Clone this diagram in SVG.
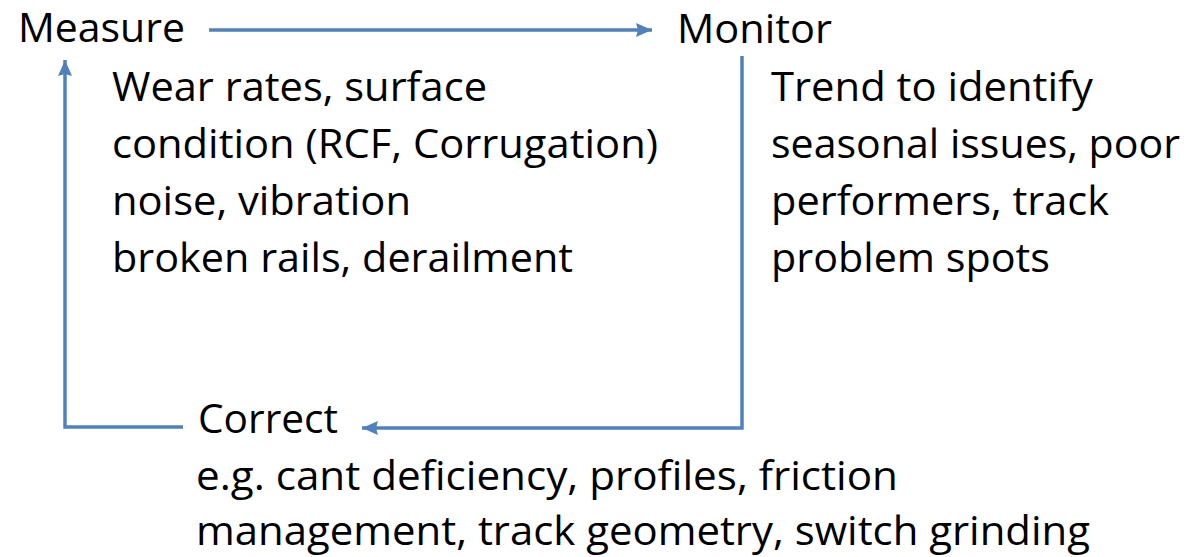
<svg xmlns="http://www.w3.org/2000/svg" width="1187" height="557" viewBox="0 0 1187 557">
<defs>
<style>
.t{font-family:"Open Sans","Noto Sans","Liberation Sans",sans-serif;font-size:41px;fill:#000}
.c{fill:none;stroke:#4F81BD;stroke-width:3.5}
</style>
<marker id="ah" markerUnits="userSpaceOnUse" markerWidth="18" markerHeight="16" refX="16" refY="7" orient="auto">
<path d="M0,0 L16,7 L0,14 L2,7 Z" fill="#4F81BD"/>
</marker>
</defs>
<rect width="1187" height="557" fill="#fff"/>
<g id="connectors">
<path class="c" d="M209,30 L652,30" marker-end="url(#ah)"/>
<path class="c" d="M742,56 L742,428 L362,428" marker-end="url(#ah)"/>
<path class="c" d="M183,427 L65,427 L65,60" marker-end="url(#ah)"/>
</g>
<g id="measure">
<text class="t" x="18" y="42" textLength="167" lengthAdjust="spacingAndGlyphs">Measure</text>
<text class="t" x="112" y="101" textLength="375" lengthAdjust="spacingAndGlyphs">Wear rates, surface</text>
<text class="t" x="112" y="158" textLength="546" lengthAdjust="spacingAndGlyphs">condition (RCF, Corrugation)</text>
<text class="t" x="112" y="215" textLength="299" lengthAdjust="spacingAndGlyphs">noise, vibration</text>
<text class="t" x="112" y="272" textLength="461" lengthAdjust="spacingAndGlyphs">broken rails, derailment</text>
</g>
<g id="monitor">
<text class="t" x="677" y="43" textLength="155" lengthAdjust="spacingAndGlyphs">Monitor</text>
<text class="t" x="771" y="101" textLength="322" lengthAdjust="spacingAndGlyphs">Trend to identify</text>
<text class="t" x="771" y="158" textLength="409" lengthAdjust="spacingAndGlyphs">seasonal issues, poor</text>
<text class="t" x="771" y="215" textLength="338" lengthAdjust="spacingAndGlyphs">performers, track</text>
<text class="t" x="771" y="272" textLength="279" lengthAdjust="spacingAndGlyphs">problem spots</text>
</g>
<g id="correct">
<text class="t" x="198" y="433" textLength="140" lengthAdjust="spacingAndGlyphs">Correct</text>
<text class="t" x="196" y="490" textLength="702" lengthAdjust="spacingAndGlyphs">e.g. cant deficiency, profiles, friction</text>
<text class="t" x="196" y="545" textLength="894" lengthAdjust="spacingAndGlyphs">management, track geometry, switch grinding</text>
</g>
</svg>
